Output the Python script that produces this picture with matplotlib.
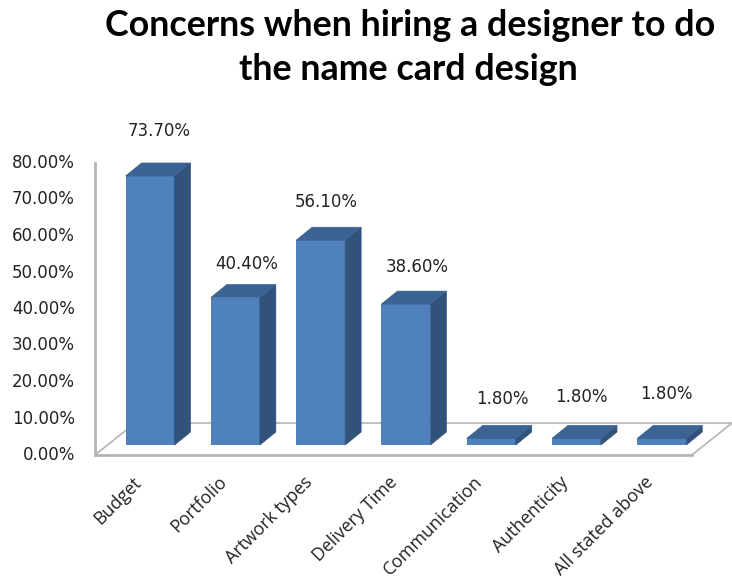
import numpy as np
import matplotlib.pyplot as plt
from matplotlib.patches import Polygon
from matplotlib.transforms import ScaledTranslation

# Data
categories = ['Budget', 'Portfolio', 'Artwork types', 'Delivery Time',
              'Communication', 'Authenticity', 'All stated above']
values = [73.7, 40.4, 56.1, 38.6, 1.8, 1.8, 1.8]
y_ticks = [0, 10, 20, 30, 40, 50, 60, 70, 80]

# Layout in pixels
W, H = 732, 581
left, right, top, bottom = 95, 692, 163, 455
px_x = (right - left) / len(categories)
px_y = (bottom - top) / 80

# Hand placed data labels, pixel nudges from the bar top
label_dx = [-15, -13, -19, -13, -13, -20, -20]
label_dy = [32, 21, 25, 24, 26, 28, 31]

plt.rcParams['font.family'] = ['DejaVu Sans']
fig = plt.figure(figsize=(W / 100, H / 100), dpi=100)
ax = fig.add_axes([left / W, 1 - bottom / H, (right - left) / W, (bottom - top) / H])
ax.set_xlim(-0.5, len(categories) - 0.5)
ax.set_ylim(0, 80)

# depth of the fake 3d, converted to data units
bar_dx = 16 / px_x
bar_dy = 13 / px_y
bar_w = 49 / px_x
shift = 12.4 / px_x
lift = 10 / px_y
floor_dx = 40 / px_x
floor_dy = 32 / px_y

grey = '#B4B4B4'
x0, x1 = -0.5, len(categories) - 0.5
ax.plot([x0, x0 + floor_dx, x1 + floor_dx, x1], [0, floor_dy, floor_dy, 0],
        color=grey, lw=1.2, clip_on=False, zorder=1, solid_joinstyle='miter')

x = np.arange(len(categories))
ax.bar(x + shift, values, bar_w, bottom=lift, color='#4F81BD', zorder=3)

for i, v in enumerate(values):
    l = i + shift - bar_w / 2
    r = i + shift + bar_w / 2
    t = v + lift
    ax.add_patch(Polygon([(r, lift), (r + bar_dx, lift + bar_dy), (r + bar_dx, t + bar_dy), (r, t)],
                         fc='#31527A', ec='#31527A', lw=0.5, clip_on=False, zorder=3))
    ax.add_patch(Polygon([(l, t), (l + bar_dx, t + bar_dy), (r + bar_dx, t + bar_dy), (r, t)],
                         fc='#3B6494', ec='#3B6494', lw=0.5, clip_on=False, zorder=3))
    ax.annotate(f'{v:.2f}%', (r, t + bar_dy), xytext=(label_dx[i] * 0.72, label_dy[i] * 0.72),
                textcoords='offset points', ha='center', va='center',
                fontsize=12, color='#222222', annotation_clip=False)

for s in ['top', 'right']:
    ax.spines[s].set_visible(False)
for s in ['left', 'bottom']:
    ax.spines[s].set_color(grey)
    ax.spines[s].set_linewidth(2)

ax.set_yticks(y_ticks)
ax.set_yticklabels([f'{t:.2f}%' for t in y_ticks], fontsize=12, color='#222222')
ax.set_xticks(x - 5 / px_x)
ax.set_xticklabels(categories, rotation=45, ha='right', rotation_mode='anchor',
                   fontsize=12.8, family='Open Sans', color='#222222')
ax.tick_params(axis='both', length=0)
ax.tick_params(axis='x', pad=13)
ax.tick_params(axis='y', pad=14.5)

# y labels sit 2px above their gridline position in the original
nudge = ScaledTranslation(0, 2 / 100, fig.dpi_scale_trans)
for lab in ax.get_yticklabels():
    lab.set_transform(lab.get_transform() + nudge)

fig.text(410 / W, 1 - 25 / H, 'Concerns when hiring a designer to do', ha='center', va='center',
         fontsize=25.8, fontweight='bold', family='Lato', color='black')
fig.text(408 / W, 1 - 70 / H, 'the name card design', ha='center', va='center',
         fontsize=25.8, fontweight='bold', family='Lato', color='black')

fig.savefig('out.png', dpi=100)
